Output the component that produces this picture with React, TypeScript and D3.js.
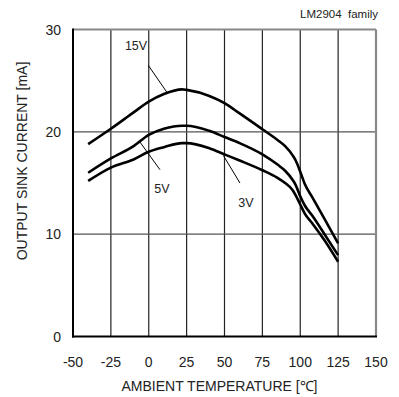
import React from "react";
import * as d3 from "d3";

const temps = [-40, -25, -10, 0, 10, 22, 25, 40, 50, 60, 75, 85, 90, 95, 97, 100, 103, 108, 116, 125];
const v15 = [18.8, 20.3, 21.9, 22.95, 23.7, 24.15, 24.1, 23.5, 22.8, 21.8, 20.25, 19.2, 18.6, 17.7, 17.2, 16.1, 14.9, 13.6, 11.5, 9.1];
const v5 = [16.0, 17.4, 18.6, 19.7, 20.3, 20.6, 20.6, 20.1, 19.5, 18.9, 17.8, 16.8, 16.2, 15.3, 14.8, 13.7, 12.8, 11.8, 10.0, 7.95];
const v3 = [15.2, 16.5, 17.3, 18.05, 18.5, 18.9, 18.9, 18.4, 17.8, 17.2, 16.25, 15.5, 15.0, 14.3, 13.8, 12.9, 12.0, 11.05, 9.4, 7.3];

const seriesNames = ["15V", "5V", "3V"];
// leader lines: [T1, I1, T2, I2]
const leaders = [
  [-0.3, 26.5, 11.8, 23.9],
  [-5.8, 19.0, 7.4, 16.3],
  [49.2, 17.7, 60.2, 15.0],
];
// label anchor points [T, I]
const labelPos = [
  [-8.4, 28.0],
  [8.7, 14.0],
  [64.2, 12.7],
];

const xTicks = [-50, -25, 0, 25, 50, 75, 100, 125, 150];
const yTicks = [0, 10, 20, 30];
const xTitle = "AMBIENT TEMPERATURE [℃]";
const yTitle = "OUTPUT SINK CURRENT [mA]";
const note = "LM2904  family";

export default function App() {
  const W = 399, H = 397;
  const x = d3.scaleLinear().domain([-50, 150]).range([73, 376]);
  const y = d3.scaleLinear().domain([0, 30]).range([336.5, 29.5]);
  const line = d3
    .line<[number, number]>()
    .x((d) => x(d[0]))
    .y((d) => y(d[1]))
    .curve(d3.curveMonotoneX);
  const data = [v15, v5, v3].map((vals) => temps.map((t, i) => [t, vals[i]] as [number, number]));
  const font = "'Liberation Sans', Arial, sans-serif";
  const [x0, x1] = x.range();
  const [y0, y1] = y.range();
  return (
    <svg
      width={W}
      height={H}
      style={{ position: "absolute", left: 0, top: 0, background: "#fff" }}
      fontFamily={font}
    >
      {/* gridlines */}
      {xTicks.slice(1, -1).map((t) => (
        <line key={"gx" + t} x1={x(t)} x2={x(t)} y1={y1} y2={y0} stroke="#222" strokeWidth={1.2} />
      ))}
      {yTicks.slice(1, -1).map((v) => (
        <line key={"gy" + v} x1={x0} x2={x1} y1={y(v)} y2={y(v)} stroke="#555" strokeWidth={1.4} />
      ))}
      {/* frame */}
      <line x1={x0} x2={x1} y1={y1} y2={y1} stroke="#888" strokeWidth={2.2} />
      <line x1={x1} x2={x1} y1={y1} y2={y0} stroke="#888" strokeWidth={2.2} />
      <line x1={x0} x2={x0} y1={y1 - 1} y2={y0 + 1} stroke="#000" strokeWidth={2} />
      <line x1={x0 - 1} x2={x1 + 1} y1={y0} y2={y0} stroke="#000" strokeWidth={2} />
      {/* curves */}
      {data.map((d, i) => (
        <path key={"c" + i} d={line(d) || ""} fill="none" stroke="#000" strokeWidth={2.6} strokeLinejoin="round" />
      ))}
      {/* leaders */}
      {leaders.map((l, i) => (
        <line key={"l" + i} x1={x(l[0])} y1={y(l[1])} x2={x(l[2])} y2={y(l[3])} stroke="#000" strokeWidth={1} />
      ))}
      {seriesNames.map((s, i) => (
        <text key={"s" + i} x={x(labelPos[i][0])} y={y(labelPos[i][1])} textAnchor="middle" fontSize={12.5} fill="#222">
          {s}
        </text>
      ))}
      {/* tick labels */}
      {xTicks.map((t) => (
        <text key={"xt" + t} x={x(t)} y={367} textAnchor="middle" fontSize={14} fill="#222">
          {t}
        </text>
      ))}
      {yTicks.map((v) => (
        <text key={"yt" + v} x={61} y={y(v) + 5} textAnchor="end" fontSize={14} fill="#222">
          {v}
        </text>
      ))}
      <text x={(x0 + x1) / 2 - 5} y={391} textAnchor="middle" fontSize={14} fill="#222">
        {xTitle}
      </text>
      <text
        transform={`translate(27, ${(y0 + y1) / 2 - 22}) rotate(-90)`}
        textAnchor="middle"
        fontSize={14}
        fill="#222"
      >
        {yTitle}
      </text>
      <text x={378} y={18} textAnchor="end" fontSize={11.5} fill="#222" style={{ whiteSpace: "pre" }}>
        {note}
      </text>
    </svg>
  );
}
